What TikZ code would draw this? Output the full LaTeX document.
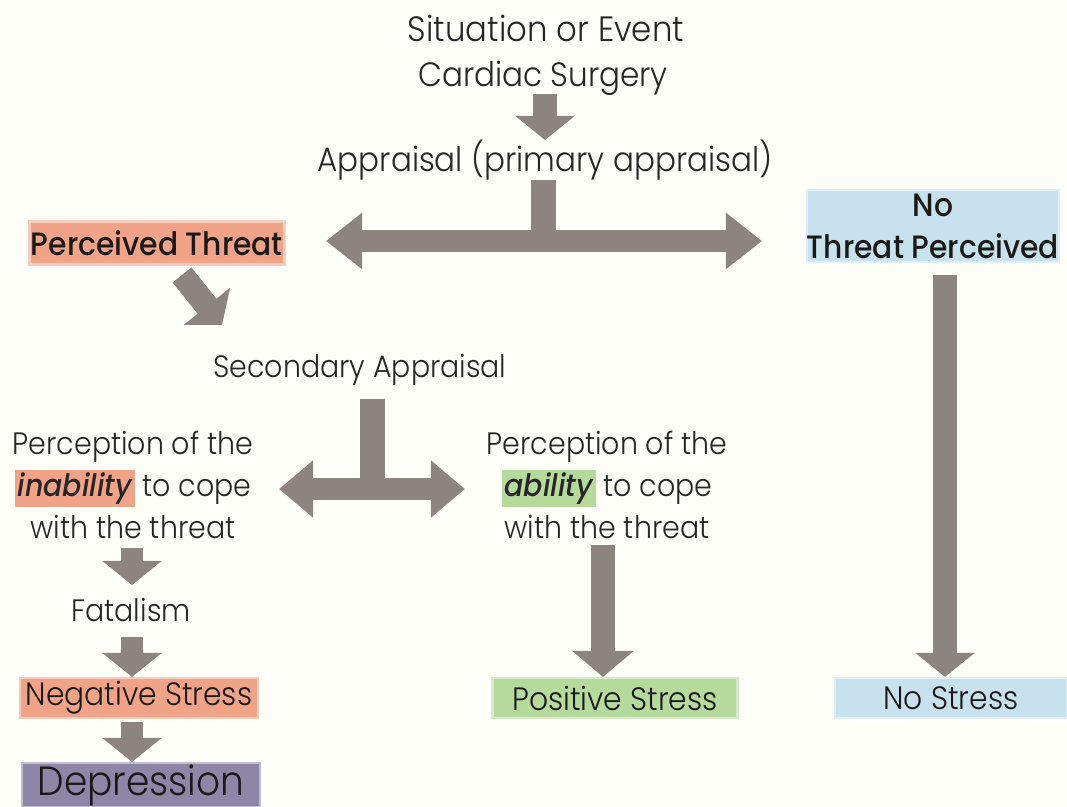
\documentclass[tikz,border=0pt]{standalone}
\usepackage{xcolor}
\usepackage{fontspec}
\setmainfont{Poppins}[UprightFont=*-Light, BoldFont=*-Medium, ItalicFont=*-LightItalic, BoldItalicFont=*-MediumItalic, FakeStretch=0.92]
\usepackage{tikz}
\usetikzlibrary{arrows.meta}
\usetikzlibrary{positioning}

\definecolor{arrowgray}{RGB}{140,132,127}
\definecolor{threatorange}{RGB}{241,163,135}
\definecolor{nothreatblue}{RGB}{199,226,236}
\definecolor{copegreen}{RGB}{182,217,156}
\definecolor{depresspurple}{RGB}{142,134,166}

\tikzset{
	txt/.style={inner sep=0pt, align=center, font=\fontsize{24}{31}\selectfont, text=black!85},
	smalltxt/.style={txt, font=\fontsize{22}{30}\selectfont},
	hlbox/.style={inner sep=0pt, align=center, font=\fontsize{23}{31}\selectfont, text=black!90, draw=#1!55, line width=1.5pt, fill=#1, minimum height=1.0cm},
	blockarrow/.style={draw=arrowgray, line width=0.6cm, -{Triangle[length=0.6cm 0, width=1.45cm 0]}},
	twoway/.style={draw=arrowgray, line width=0.55cm, {Triangle[length=0.9cm 0, width=1.35cm 0]}-{Triangle[length=0.9cm 0, width=1.35cm 0]}},
	stem/.style={draw=arrowgray, line width=0.625cm}
}
\newcommand{\hlword}[2]{{\setlength{\fboxsep}{2pt}\colorbox{#1}{\bfseries\itshape #2}}}

\begin{document}
\begin{tikzpicture}[x=0.025cm, y=-0.025cm]
	\useasboundingbox (0,0) rectangle (1067,807);
	\clip (0,0) rectangle (1067,807);
	\fill[white!98!yellow] (0,0) rectangle (1067,807);
	% text nodes
	\node[txt, font=\fontsize{25}{31}\selectfont] (situation) at (546,28) {Situation or Event};
	\node[txt] (cardiac) at (543,78) {Cardiac Surgery};
	\node[txt] (appraisal) at (545,160) {Appraisal (primary appraisal)};
	\node[smalltxt] (secondary) at (360,370) {Secondary Appraisal};
	\node[smalltxt] (inability) at (133,485) {Perception of the\\\hlword{threatorange}{inability} to cope\\with the threat};
	\node[smalltxt] (ability) at (607,485) {Perception of the\\\hlword{copegreen}{ability} to cope\\with the threat};
	\node[smalltxt] (fatalism) at (131,610) {Fatalism};
	% coloured boxes
	\node[hlbox=threatorange, minimum width=6.375cm, minimum height=1.075cm, font=\fontsize{23}{31}\selectfont\bfseries] (threat) at (157,243) {Perceived Threat};
	\node[hlbox=nothreatblue, minimum width=6.25cm, minimum height=1.8cm, font=\fontsize{23}{30}\selectfont\bfseries] (nothreat) at (933,226) {No\\Threat Perceived};
	\node[hlbox=threatorange, minimum width=5.95cm] (negstress) at (139,698) {Negative Stress};
	\node[hlbox=depresspurple, minimum width=5.95cm, minimum height=1.1cm, font=\fontsize{29}{34}\selectfont] (depression) at (141,785) {Depression};
	\node[hlbox=copegreen, minimum width=6.125cm] (posstress) at (615,698) {Positive Stress};
	\node[hlbox=nothreatblue, minimum width=5.8cm] (nostress) at (951,698) {No Stress};
	% arrow ends
	\coordinate (cardiac-out) at (545,94);
	\coordinate (appraisal-in) at (545,140);
	\coordinate (appraisal-out) at (543,180);
	\coordinate (fork1) at (543,245);
	\coordinate (t1left) at (326,241);
	\coordinate (t1right) at (762,241);
	\coordinate (threat-out) at (182,275);
	\coordinate (secondary-in) at (222,325);
	\coordinate (secondary-out) at (372,399);
	\coordinate (fork2) at (372,493);
	\coordinate (t2left) at (279,489);
	\coordinate (t2right) at (465,489);
	\coordinate (inability-out) at (132,548);
	\coordinate (fatalism-in) at (132,585);
	\coordinate (fatalism-out) at (132,637);
	\coordinate (negstress-out) at (132,722);
	\coordinate (ability-out) at (603,545);
	\coordinate (nothreat-out) at (945,275);
	% arrows
	\draw[blockarrow] (cardiac-out) -- (appraisal-in);
	\draw[stem] (appraisal-out) -- (fork1);
	\draw[twoway] (t1left) -- (t1right);
	\draw[blockarrow, line width=0.6cm] (threat-out) -- (secondary-in);
	\draw[stem] (secondary-out) -- (fork2);
	\draw[twoway, {Triangle[length=0.85cm 0, width=1.37cm 0]}-{Triangle[length=0.85cm 0, width=1.37cm 0]}] (t2left) -- (t2right);
	\draw[blockarrow, line width=0.53cm] (inability-out) -- (fatalism-in);
	\draw[blockarrow, line width=0.53cm] (fatalism-out) -- (fatalism-out |- negstress.north);
	\draw[blockarrow, line width=0.53cm] (negstress-out) -- (negstress-out |- depression.north);
	\draw[blockarrow, line width=0.58cm, -{Triangle[length=0.65cm 0, width=1.5cm 0]}] (ability-out) -- (ability-out |- posstress.north);
	\draw[blockarrow, line width=0.62cm] (nothreat-out) -- (nothreat-out |- nostress.north);
\end{tikzpicture}
\end{document}
